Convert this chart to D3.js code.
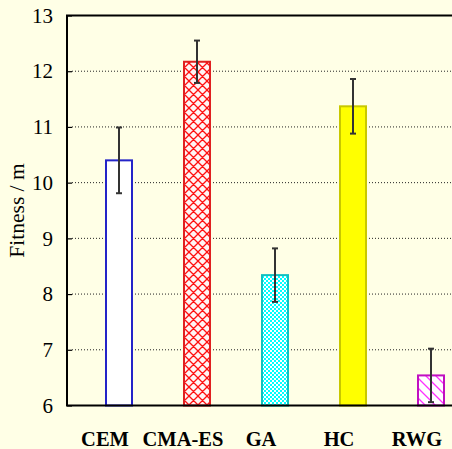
<!DOCTYPE html>
<html><head><meta charset="utf-8">
<script src="https://cdn.jsdelivr.net/npm/d3@7"></script>
<style>
html,body{margin:0;padding:0;background:#ffffe6;}
svg{display:block;}
svg text{font-family:"Liberation Serif","Times New Roman",serif;}
</style></head>
<body>
<svg id="chart" width="452" height="449"></svg>
<script>
const categories = ["CEM", "CMA-ES", "GA", "HC", "RWG"];
const means = [10.40, 12.17, 8.34, 11.37, 6.54];
const errors = [0.59, 0.38, 0.48, 0.49, 0.48];
const yTicks = [6, 7, 8, 9, 10, 11, 12, 13];
const strokeColors = ["#2424c8", "#e02020", "#10c0c0", "#c8c800", "#c010c0"];
const fillIds = ["fWhite", "fCross", "fCheck", "fYellow", "fDiag"];

const W = 452, H = 449;
const pLeft = 67, pRight = 452, pTop = 15.5, pBottom = 405.5;
const svg = d3.select("#chart");
svg.append("rect").attr("width", W).attr("height", H).attr("fill", "#ffffe6");

const defs = svg.append("defs");
// crosshatch red
const pc = defs.append("pattern").attr("id", "fCross").attr("patternUnits", "userSpaceOnUse").attr("width", 9).attr("height", 9);
pc.append("rect").attr("width", 9).attr("height", 9).attr("fill", "#fff4f4");
pc.append("path").attr("d", "M0,0L9,9M-1,8L1,10M8,-1L10,1M0,9L9,0M-1,1L1,-1M8,10L10,8").attr("stroke", "#ff1010").attr("stroke-width", 1.3);
// checker cyan
const pk = defs.append("pattern").attr("id", "fCheck").attr("patternUnits", "userSpaceOnUse").attr("width", 4).attr("height", 4);
pk.append("rect").attr("width", 4).attr("height", 4).attr("fill", "#00ffff");
pk.append("rect").attr("width", 2).attr("height", 2).attr("fill", "#ffffff");
pk.append("rect").attr("x", 2).attr("y", 2).attr("width", 2).attr("height", 2).attr("fill", "#ffffff");
// diagonal magenta
const pd = defs.append("pattern").attr("id", "fDiag").attr("patternUnits", "userSpaceOnUse").attr("width", 10).attr("height", 10);
pd.append("rect").attr("width", 10).attr("height", 10).attr("fill", "#ffffff");
pd.append("path").attr("d", "M0,0L10,10M-1,9L1,11M9,-1L11,1").attr("stroke", "#ff30ff").attr("stroke-width", 1.3);

const fills = {fWhite: "#ffffff", fCross: "url(#fCross)", fCheck: "url(#fCheck)", fYellow: "#ffff00", fDiag: "url(#fDiag)"};

const x = d3.scalePoint().domain(categories).range([119, 431]);
const y = d3.scaleLinear().domain([6, 13]).range([pBottom, pTop]);
const barW = 26;

// grid
svg.append("g").selectAll("line").data(yTicks.filter(t => t > 6 && t < 13)).join("line")
  .attr("x1", pLeft + 5).attr("x2", pRight).attr("y1", d => y(d)).attr("y2", d => y(d))
  .attr("stroke", "#222").attr("stroke-width", 1).attr("stroke-dasharray", "1,2");

// y axis
const yAxis = d3.axisLeft(y).tickValues(yTicks).tickSize(-5).tickPadding(14).tickFormat(d3.format("d"));
const ga = svg.append("g").attr("transform", `translate(${pLeft},0)`).call(yAxis);
ga.attr("font-family", null).attr("font-size", null);
ga.select(".domain").remove();
ga.selectAll(".tick line").attr("stroke", "#000").attr("stroke-width", 1.2);
ga.selectAll(".tick text")
  .style("font-family", '"Liberation Serif","Times New Roman",serif')
  .style("font-size", "21px").attr("fill", "#000");

// bars
svg.append("g").selectAll("rect").data(categories).join("rect")
  .attr("x", d => x(d) - barW / 2)
  .attr("y", (d, i) => y(means[i]))
  .attr("width", barW)
  .attr("height", (d, i) => y(6) - y(means[i]))
  .attr("fill", (d, i) => fills[fillIds[i]])
  .attr("stroke", (d, i) => strokeColors[i])
  .attr("stroke-width", 2);

// error bars
const eb = svg.append("g").attr("stroke", "#333").attr("stroke-width", 2);
categories.forEach((c, i) => {
  const cx = x(c);
  const y1 = y(means[i] + errors[i]), y2 = y(means[i] - errors[i]);
  eb.append("line").attr("x1", cx).attr("x2", cx).attr("y1", y1).attr("y2", y2);
  eb.append("line").attr("x1", cx - 3).attr("x2", cx + 3).attr("y1", y1).attr("y2", y1);
  eb.append("line").attr("x1", cx - 3).attr("x2", cx + 3).attr("y1", y2).attr("y2", y2);
});

// frame: left, bottom, top
svg.append("path").attr("d", `M${pRight},${pTop}H${pLeft}V${pBottom}H${pRight}`)
  .attr("fill", "none").attr("stroke", "#000").attr("stroke-width", 2);

// x labels
svg.append("g").selectAll("text").data(categories).join("text")
  .attr("x", d => x(d) - 14).attr("y", 446)
  .attr("text-anchor", "middle")
  .style("font-weight", "bold").style("font-size", "20.5px").attr("fill", "#000")
  .text(d => d);

// y label
svg.append("text").attr("transform", `translate(24,${(pTop + pBottom) / 2}) rotate(-90)`)
  .attr("text-anchor", "middle")
  .style("font-size", "21.5px").attr("fill", "#000")
  .text("Fitness / m");
</script>
</body></html>
